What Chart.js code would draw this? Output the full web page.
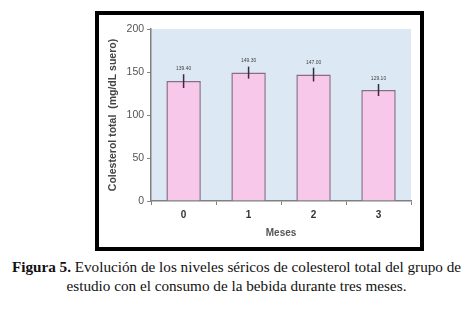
<!DOCTYPE html>
<html>
<head>
<meta charset="utf-8">
<script src="https://cdn.jsdelivr.net/npm/chart.js@4/dist/chart.umd.min.js"></script>
<style>
  body { margin: 0; width: 473px; height: 320px; background: #fff; position: relative; overflow: hidden; }
  #marco { position: absolute; left: 95px; top: 11px; width: 321px; height: 232px; border: 4px solid #000; background: #fff; }
  #marco canvas { display: block; }
  #pie { position: absolute; left: 0; top: 257px; width: 473px; text-align: center;
         font-family: "Liberation Serif", "Times New Roman", serif; font-size: 15.2px; line-height: 19px; color: #111; }
</style>
</head>
<body>
<div id="marco"><canvas id="grafica" width="321" height="232"></canvas></div>
<div id="pie"><b>Figura 5.</b> Evolución de los niveles séricos de colesterol total del grupo de<br>estudio con el consumo de la bebida durante tres meses.</div>
<script>
// Datos
const meses = ['0', '1', '2', '3'];
const colesterol = [139.4, 149.3, 147.0, 129.1];
const errores = [8, 7, 8, 7];
const etiquetas = ['139.40', '149.30', '147.00', '129.10'];
const ticksY = [0, 50, 100, 150, 200];

// Fondo azul del área de trazado
const fondo = {
  id: 'fondo',
  beforeDraw(chart) {
    const { ctx, chartArea: a } = chart;
    ctx.save();
    ctx.fillStyle = '#dce8f4';
    ctx.fillRect(a.left, a.top, a.right - a.left, a.bottom - a.top);
    ctx.restore();
  }
};

// Barras de error y valores encima
const barrasError = {
  id: 'barrasError',
  afterDatasetsDraw(chart) {
    const { ctx } = chart;
    const y = chart.scales.y;
    const meta = chart.getDatasetMeta(0);
    ctx.save();
    meta.data.forEach((bar, i) => {
      const v = colesterol[i];
      const top = y.getPixelForValue(v + errores[i]);
      const bot = y.getPixelForValue(v - errores[i]);
      ctx.strokeStyle = '#3a2a3a';
      ctx.lineWidth = 1.5;
      ctx.beginPath();
      ctx.moveTo(bar.x, top);
      ctx.lineTo(bar.x, bot);
      ctx.stroke();
      ctx.fillStyle = '#444';
      ctx.font = '5px "Liberation Sans", Arial, sans-serif';
      ctx.textAlign = 'center';
      ctx.textBaseline = 'bottom';
      ctx.fillText(etiquetas[i], bar.x, top - 3);
    });
    ctx.restore();
  }
};

const ctx = document.getElementById('grafica').getContext('2d');
const grafica = new Chart(ctx, {
  type: 'bar',
  data: {
    labels: meses,
    datasets: [{
      data: colesterol,
      backgroundColor: '#f8c8ea',
      borderColor: '#8a6c86',
      borderWidth: 1.5,
      categoryPercentage: 1,
      barPercentage: 0.53
    }]
  },
  options: {
    responsive: false,
    animation: false,
    layout: { padding: { left: 8, right: 9, top: 14, bottom: 8 } },
    plugins: { legend: { display: false }, tooltip: { enabled: false } },
    scales: {
      x: {
        grid: { drawOnChartArea: false, tickLength: 4, color: '#808080' },
        border: { color: '#808080', width: 1.5 },
        ticks: { color: '#333', font: { family: '"Liberation Sans", Arial, sans-serif', size: 10, weight: 'bold' }, padding: 4 },
        title: { display: true, text: 'Meses', color: '#555', font: { family: '"Liberation Sans", Arial, sans-serif', size: 10, weight: 'bold' }, padding: { top: 2, bottom: 0 } }
      },
      y: {
        min: 0,
        max: 200,
        afterBuildTicks(axis) { axis.ticks = ticksY.map(v => ({ value: v })); },
        grid: { drawOnChartArea: false, tickLength: 4, color: '#808080' },
        border: { color: '#808080', width: 1.5 },
        ticks: { color: '#555', font: { family: '"Liberation Sans", Arial, sans-serif', size: 10.5 }, padding: 3 },
        title: { display: true, text: 'Colesterol total  (mg/dL suero)', color: '#444', font: { family: '"Liberation Sans", Arial, sans-serif', size: 10.5, weight: 'bold' }, padding: { top: 0, bottom: 4 } }
      }
    }
  },
  plugins: [fondo, barrasError]
});
</script>
</body>
</html>
